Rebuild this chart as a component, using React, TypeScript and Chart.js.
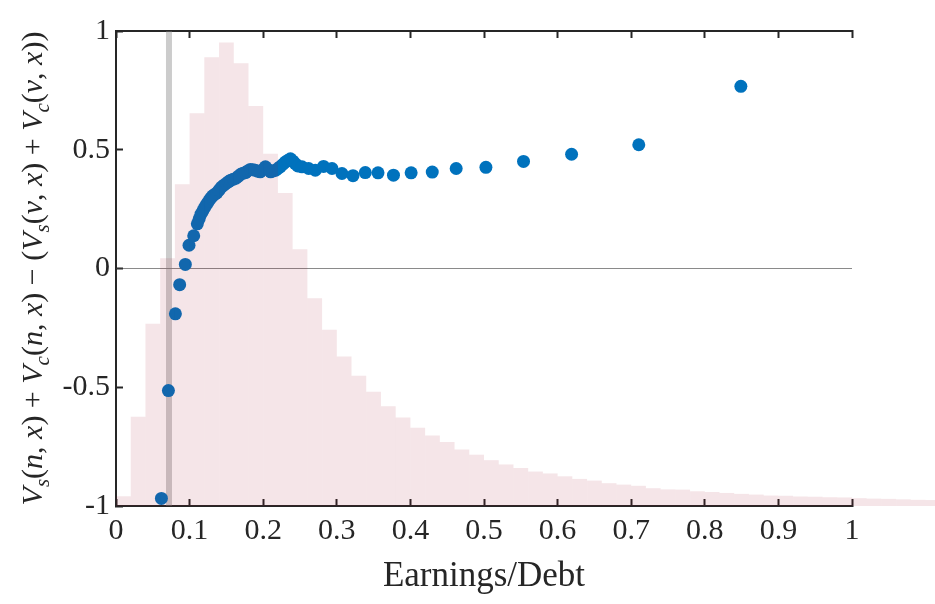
import React, { useEffect, useRef } from 'react';
import { Chart, registerables } from 'chart.js';

Chart.register(...registerables);

// ---------- data ----------
const xTickValues = [0, 0.1, 0.2, 0.3, 0.4, 0.5, 0.6, 0.7, 0.8, 0.9, 1];
const xTickLabels = ['0', '0.1', '0.2', '0.3', '0.4', '0.5', '0.6', '0.7', '0.8', '0.9', '1'];
const yTickValues = [-1, -0.5, 0, 0.5, 1];
const yTickLabels = ['-1', '-0.5', '0', '0.5', '1'];

const xTitle = 'Earnings/Debt';
// y title pieces: [text, style] where style: r = roman, i = italic, s = italic subscript
const yTitleParts: [string, string][] = [
  ['V', 'i'], ['s', 's'], ['(', 'r'], ['n', 'i'], [', ', 'r'], ['x', 'i'], [')', 'r'],
  [' + ', 'r'],
  ['V', 'i'], ['c', 's'], ['(', 'r'], ['n', 'i'], [', ', 'r'], ['x', 'i'], [')', 'r'],
  [' \u2212 (', 'r'],
  ['V', 'i'], ['s', 's'], ['(', 'r'], ['v', 'i'], [', ', 'r'], ['x', 'i'], [')', 'r'],
  [' + ', 'r'],
  ['V', 'i'], ['c', 's'], ['(', 'r'], ['v', 'i'], [', ', 'r'], ['x', 'i'], ['))', 'r'],
];

// histogram of Earnings/Debt (bin centres, bin width 0.02), height in y-axis units above -1
const histBinCenters = [
  0.01, 0.03, 0.05, 0.07, 0.09, 0.11, 0.13, 0.15, 0.17, 0.19,
  0.21, 0.23, 0.25, 0.27, 0.29, 0.31, 0.33, 0.35, 0.37, 0.39,
  0.41, 0.43, 0.45, 0.47, 0.49, 0.51, 0.53, 0.55, 0.57, 0.59,
  0.61, 0.63, 0.65, 0.67, 0.69, 0.71, 0.73, 0.75, 0.77, 0.79,
  0.81, 0.83, 0.85, 0.87, 0.89, 0.91, 0.93, 0.95, 0.97, 0.99,
  1.01, 1.03, 1.05, 1.07, 1.09, 1.11,
];
const histHeights = [
  0.041, 0.376, 0.767, 1.043, 1.355, 1.654, 1.889, 1.952, 1.864, 1.684,
  1.483, 1.318, 1.081, 0.875, 0.742, 0.629, 0.548, 0.481, 0.420, 0.373,
  0.329, 0.297, 0.270, 0.238, 0.216, 0.193, 0.175, 0.160, 0.145, 0.137,
  0.125, 0.114, 0.107, 0.096, 0.090, 0.085, 0.075, 0.070, 0.069, 0.062,
  0.059, 0.055, 0.051, 0.048, 0.044, 0.043, 0.040, 0.039, 0.037, 0.036,
  0.033, 0.031, 0.030, 0.028, 0.026, 0.025,
];

// value difference scatter
const scatterX = [
  0.0617, 0.0712, 0.0807, 0.0865, 0.0942, 0.0992, 0.1056, 0.1105, 0.1130, 0.1155,
  0.1180, 0.1205, 0.1232, 0.1260, 0.1285, 0.1310, 0.1340, 0.1370, 0.1400, 0.1430,
  0.1465, 0.1500, 0.1530, 0.1560, 0.1595, 0.1630, 0.1665, 0.1700, 0.1730, 0.1760,
  0.1790, 0.1825, 0.1860, 0.1890, 0.1925, 0.1960, 0.2000, 0.2030, 0.2065, 0.2100,
  0.2135, 0.2170, 0.2200, 0.2230, 0.2265, 0.2300, 0.2335, 0.2370, 0.2405, 0.2436,
  0.2470, 0.2527, 0.2617, 0.2708, 0.2820, 0.2935, 0.3070, 0.3220, 0.3387, 0.3560,
  0.3770, 0.4010, 0.4297, 0.4622, 0.5026, 0.5537, 0.6190, 0.7103, 0.8490,
];
const scatterY = [
  -0.968, -0.514, -0.191, -0.068, 0.017, 0.098, 0.138, 0.188, 0.209, 0.229,
  0.243, 0.257, 0.271, 0.284, 0.295, 0.305, 0.312, 0.318, 0.330, 0.342,
  0.351, 0.359, 0.366, 0.372, 0.376, 0.380, 0.389, 0.398, 0.401, 0.404,
  0.411, 0.417, 0.416, 0.414, 0.410, 0.407, 0.418, 0.428, 0.417, 0.407,
  0.411, 0.414, 0.421, 0.428, 0.438, 0.448, 0.455, 0.462, 0.452, 0.441,
  0.432, 0.428, 0.421, 0.414, 0.430, 0.421, 0.400, 0.391, 0.404, 0.403,
  0.393, 0.403, 0.406, 0.421, 0.426, 0.451, 0.481, 0.521, 0.767,
];

// reference lines
const thresholdX = 0.072;
const zeroLineY = 0;

// ---------- styles ----------
const AXIS = '#262626';
const SERIF = '"Liberation Serif", "Times New Roman", serif';

const yTitlePlugin = {
  id: 'yTitleRich',
  afterDraw(chart: any) {
    const ctx = chart.ctx as CanvasRenderingContext2D;
    const area = chart.chartArea;
    const size = 30;
    const fonts: Record<string, string> = {
      r: `${size}px ${SERIF}`,
      i: `italic ${size}px ${SERIF}`,
      s: `italic ${Math.round(size * 0.7)}px ${SERIF}`,
    };
    ctx.save();
    let total = 0;
    const widths = yTitleParts.map(([t, st]) => {
      ctx.font = fonts[st];
      const w = ctx.measureText(t).width;
      total += w;
      return w;
    });
    const cy = (area.top + area.bottom) / 2;
    ctx.translate(42, cy);
    ctx.rotate(-Math.PI / 2);
    ctx.fillStyle = AXIS;
    ctx.textBaseline = 'alphabetic';
    ctx.textAlign = 'left';
    let x = -total / 2;
    yTitleParts.forEach(([t, st], i) => {
      ctx.font = fonts[st];
      ctx.fillText(t, x, st === 's' ? size * 0.22 : 0);
      x += widths[i];
    });
    ctx.restore();
  },
};

export default function App() {
  const ref = useRef<HTMLCanvasElement | null>(null);

  useEffect(() => {
    if (!ref.current) return;
    const tickFont = { family: SERIF, size: 30 };
    const setX = (s: any) => { s.ticks = xTickValues.map((v) => ({ value: v })); };
    const setY = (s: any) => { s.ticks = yTickValues.map((v) => ({ value: v })); };

    const chart = new Chart(ref.current, {
      type: 'scatter',
      data: {
        datasets: [
          {
            type: 'bar',
            label: 'histogram',
            data: histBinCenters.map((x, i) => ({ x, y: histHeights[i] })),
            xAxisID: 'x',
            yAxisID: 'yh',
            backgroundColor: 'rgba(162, 20, 47, 0.11)',
            borderWidth: 0,
            borderSkipped: false,
            inflateAmount: 0,
            barPercentage: 1,
            categoryPercentage: 1,
            clip: false,
            order: 0,
          } as any,
          {
            type: 'scatter',
            label: 'difference',
            data: scatterX.map((x, i) => ({ x, y: scatterY[i] })),
            xAxisID: 'x',
            yAxisID: 'y',
            backgroundColor: '#0072BD',
            borderWidth: 0,
            pointRadius: 6.5,
            pointHoverRadius: 6.5,
            order: 1,
          },
          {
            type: 'line',
            label: 'threshold',
            data: [{ x: thresholdX, y: -1 }, { x: thresholdX, y: 1 }],
            xAxisID: 'x',
            yAxisID: 'y',
            borderColor: 'rgba(128, 128, 128, 0.4)',
            borderWidth: 6,
            pointRadius: 0,
            order: 2,
          },
          {
            type: 'line',
            label: 'zero',
            data: [{ x: 0, y: zeroLineY }, { x: 1, y: zeroLineY }],
            xAxisID: 'x',
            yAxisID: 'y',
            borderColor: 'rgba(60, 60, 60, 0.6)',
            borderWidth: 1.2,
            pointRadius: 0,
            order: 3,
          },
        ],
      },
      options: {
        animation: false,
        responsive: false,
        devicePixelRatio: 1,
        layout: { padding: { left: 0, right: 83, top: 0, bottom: 0 } },
        plugins: { legend: { display: false }, tooltip: { enabled: false } },
        scales: {
          x: {
            type: 'linear',
            position: 'bottom',
            offset: false,
            min: 0,
            max: 1,
            afterBuildTicks: setX,
            afterFit: (s: any) => { s.height = 98; },
            ticks: {
              autoSkip: false,
              maxRotation: 0,
              color: AXIS,
              font: tickFont,
              padding: 14,
              callback: (v: any) => {
                const i = xTickValues.findIndex((t) => Math.abs(t - Number(v)) < 1e-9);
                return i >= 0 ? xTickLabels[i] : '';
              },
            },
            grid: { offset: false, drawOnChartArea: false, tickLength: -7, tickWidth: 2, tickColor: AXIS },
            border: { display: true, color: AXIS, width: 2 },
            title: {
              display: true,
              text: xTitle,
              color: AXIS,
              font: { family: SERIF, size: 35 },
              padding: { top: 0, bottom: 6 },
            },
          },
          xTop: {
            type: 'linear',
            position: 'top',
            offset: false,
            min: 0,
            max: 1,
            afterBuildTicks: setX,
            afterFit: (s: any) => { s.height = 19; },
            ticks: { display: false },
            grid: { offset: false, drawOnChartArea: false, tickLength: -7, tickWidth: 2, tickColor: AXIS },
            border: { display: true, color: AXIS, width: 2 },
          },
          y: {
            type: 'linear',
            position: 'left',
            min: -1,
            max: 1,
            afterBuildTicks: setY,
            afterFit: (s: any) => { s.width = 116; },
            ticks: {
              color: AXIS,
              font: tickFont,
              padding: 13,
              callback: (v: any) => {
                const i = yTickValues.findIndex((t) => Math.abs(t - Number(v)) < 1e-9);
                return i >= 0 ? yTickLabels[i] : '';
              },
            },
            grid: { drawOnChartArea: false, tickLength: -7, tickWidth: 2, tickColor: AXIS },
            border: { display: true, color: AXIS, width: 2 },
          },
          yh: {
            type: 'linear',
            display: false,
            min: 0,
            max: 2,
          },
        },
      } as any,
      plugins: [yTitlePlugin],
    });
    return () => chart.destroy();
  }, []);

  return (
    <div style={{ position: 'absolute', left: 0, top: 0, width: 935, height: 604, background: '#fff' }}>
      <canvas ref={ref} width={935} height={604} style={{ display: 'block', width: 935, height: 604 }} />
    </div>
  );
}
